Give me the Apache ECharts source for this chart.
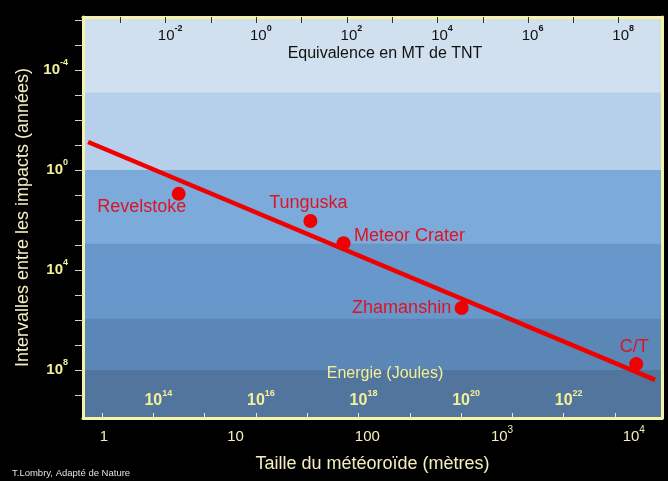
<!DOCTYPE html>
<html><head><meta charset="utf-8">
<script src="https://cdn.jsdelivr.net/npm/echarts@6/dist/echarts.min.js"></script>
<style>html,body{margin:0;padding:0;background:#000;}#c{width:668px;height:481px;}</style>
</head><body><div id="c"></div>
<script>
// ---- data (real units) ----
const impactNames = ['Revelstoke', 'Tunguska', 'Meteor Crater', 'Zhamanshin', 'C/T'];
const impactSizeM = [3.7, 37, 66, 520, 11000];
const impactIntervalYears = [9, 110, 850, 330000, 58000000];
const trendSizeM = [0.76, 15300];
const trendIntervalYears = [0.076, 250000000];
const bandEdgesYears = [0.0008, 1, 900, 900000, 100000000];
// tick exponents (powers of ten)
const sizeLabelExp = [0, 1, 2, 3, 4];
const yTickExp = [-6, -5, -4, -3, -2, -1, 0, 1, 2, 3, 4, 5, 6, 7, 8, 9];
const yLabelExp = [-4, 0, 4, 8];
const mtTickExp = [-3, -2, -1, 0, 1, 2, 3, 4, 5, 6, 7, 8];
const mtLabelExp = [-2, 0, 2, 4, 6, 8];
const energyTickExp = [13, 14, 15, 16, 17, 18, 19, 20, 21, 22, 23];
const energyLabelExp = [14, 16, 18, 20, 22];

// ---- styles / layout ----
const FONT = 'Liberation Sans, Arial, sans-serif';
const BORDER = '#f6f3a8';
const PALE = '#f3efc0';
const YEL = '#f4f09a';
const RED = '#f00000';
const LRED = '#dc1424';
const bandColors = ['#d0e0ee', '#b6cfeb', '#7caadb', '#6797cb', '#5b87b6', '#52759d'];
const labelOffsets = [[-37, 13], [-2, -18], [66, -7], [-60, 0], [-2, -17]];
const Y_MIN = -6.12, Y_MAX = 9.92;

const L = Math.log10;
const edges = [Y_MIN].concat(bandEdgesYears.map(L));
// each band is drawn from its upper edge down to the axis end; later bands cover earlier ones (no seams)
const bands = edges.map((e, i) => [
  { yAxis: e, itemStyle: { color: bandColors[i], opacity: 1, borderWidth: 0 } },
  { yAxis: Y_MAX }
]);

const chart = echarts.init(document.getElementById('c'), null, { renderer: 'canvas' });
const gridRect = { left: 83, right: 6, top: 17, bottom: 63 };

chart.setOption({
  backgroundColor: '#000',
  animation: false,
  grid: [Object.assign({ show: false }, gridRect), Object.assign({ show: false }, gridRect)],
  xAxis: [
    {
      gridIndex: 0, type: 'value', position: 'bottom', min: -0.158, max: 4.237, z: 6,
      axisLine: { show: true, onZero: false, lineStyle: { color: BORDER, width: 3 } },
      axisTick: { show: false }, splitLine: { show: false },
      axisLabel: {
        customValues: sizeLabelExp, margin: 7,
        formatter: v => v < 3 ? '{b|' + Math.round(Math.pow(10, v)) + '}' : '{p|}{b|10}{s|' + v + '}',
        rich: {
          b: { fontSize: 15, lineHeight: 24, color: PALE, fontFamily: FONT },
          s: { fontSize: 10, lineHeight: 2, verticalAlign: 'top', color: PALE, fontFamily: FONT },
          p: { width: 6 }
        }
      },
      name: 'Taille du météoroïde (mètres)', nameLocation: 'middle', nameGap: 37,
      nameTextStyle: { color: PALE, fontSize: 18, fontFamily: FONT }
    },
    {
      gridIndex: 0, type: 'value', position: 'top', min: -3.826, max: 8.956, z: 6,
      axisLine: { show: true, onZero: false, lineStyle: { color: BORDER, width: 3 } },
      axisTick: { show: true, inside: true, length: 6, customValues: mtTickExp, lineStyle: { color: '#333' } },
      splitLine: { show: false },
      axisLabel: {
        inside: true, margin: 7, customValues: mtLabelExp,
        formatter: v => '{p|}{b|10}{s|' + v + '}',
        rich: {
          b: { fontSize: 15, lineHeight: 24, color: '#111', fontFamily: FONT },
          s: { fontSize: 9, lineHeight: 9, verticalAlign: 'top', fontWeight: 'bold', color: '#111', fontFamily: FONT },
          p: { width: 9 }
        }
      }
    },
    {
      gridIndex: 1, type: 'value', position: 'bottom', min: 12.63, max: 23.916, z: 6,
      axisLine: { show: false, onZero: false },
      axisTick: { show: true, inside: true, length: 5, customValues: energyTickExp, lineStyle: { color: '#e6e6e6' } },
      splitLine: { show: false },
      axisLabel: {
        inside: true, margin: 5, customValues: energyLabelExp,
        formatter: v => '{p|}{b|10}{s|' + v + '}',
        rich: {
          b: { fontSize: 16, lineHeight: 24, fontWeight: 'bold', color: YEL, fontFamily: FONT },
          s: { fontSize: 9, lineHeight: 7, verticalAlign: 'top', fontWeight: 'bold', color: YEL, fontFamily: FONT },
          p: { width: 10 }
        }
      }
    }
  ],
  yAxis: [
    {
      gridIndex: 0, type: 'value', inverse: true, min: Y_MIN, max: Y_MAX, position: 'left', z: 6,
      axisLine: { show: true, onZero: false, lineStyle: { color: BORDER, width: 3 } },
      axisTick: { show: true, length: 8, customValues: yTickExp, lineStyle: { color: '#d0d0d0' } },
      splitLine: { show: false },
      axisLabel: {
        customValues: yLabelExp, margin: 15,
        formatter: v => '{b|10}{s|' + v + '}',
        rich: {
          b: { fontSize: 15, lineHeight: 24, fontWeight: 'bold', color: YEL, fontFamily: FONT },
          s: { fontSize: 9, lineHeight: 8, verticalAlign: 'top', fontWeight: 'bold', color: YEL, fontFamily: FONT }
        }
      },
      name: 'Intervalles entre les impacts (années)', nameLocation: 'middle', nameGap: 46,
      nameTextStyle: { color: PALE, fontSize: 18, fontFamily: FONT }
    },
    {
      gridIndex: 1, type: 'value', position: 'right', min: 0, max: 1, z: 6,
      axisLine: { show: true, onZero: false, lineStyle: { color: BORDER, width: 3 } },
      axisTick: { show: false }, axisLabel: { show: false }, splitLine: { show: false }
    }
  ],
  series: [
    {
      type: 'line', xAxisIndex: 0, yAxisIndex: 0, silent: true, z: 3,
      data: trendSizeM.map((s, i) => [L(s), L(trendIntervalYears[i])]),
      symbol: 'none', lineStyle: { color: RED, width: 4.5 },
      markArea: { silent: true, itemStyle: { borderWidth: 0, opacity: 1 }, data: bands }
    },
    {
      type: 'scatter', xAxisIndex: 0, yAxisIndex: 0, silent: true, z: 4,
      symbolSize: 14, itemStyle: { color: RED, opacity: 1 },
      data: impactNames.map((n, i) => ({
        name: n, value: [L(impactSizeM[i]), L(impactIntervalYears[i])],
        label: { offset: labelOffsets[i] }
      })),
      label: { show: true, position: 'inside', formatter: '{b}', color: LRED, fontSize: 18, fontFamily: FONT }
    }
  ],
  graphic: [
    { type: 'text', z: 10, style: { text: 'Equivalence en MT de TNT', x: 385, y: 54, textAlign: 'center', textVerticalAlign: 'middle', fill: '#111', font: '16px ' + FONT } },
    { type: 'text', z: 10, style: { text: 'Energie (Joules)', x: 385, y: 374, textAlign: 'center', textVerticalAlign: 'middle', fill: YEL, font: '16px ' + FONT } },
    { type: 'text', z: 10, style: { text: 'T.Lombry, Adapté de Nature', x: 12, y: 473, textAlign: 'left', textVerticalAlign: 'middle', fill: '#e0e0e0', font: '9.5px ' + FONT } }
  ]
});
</script>
</body></html>
